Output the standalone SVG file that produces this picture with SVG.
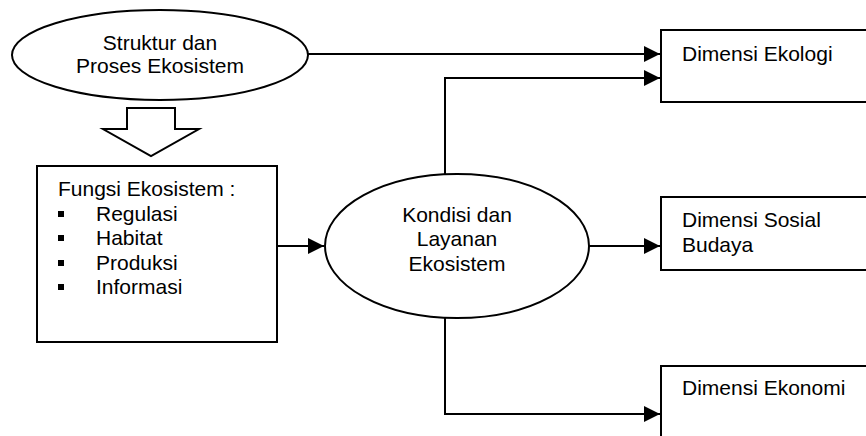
<svg xmlns="http://www.w3.org/2000/svg" width="866" height="436" viewBox="0 0 866 436">
  <style>
    .shape { fill: #ffffff; stroke: #000000; stroke-width: 2; }
    .line { fill: none; stroke: #000000; stroke-width: 2; }
    text { font-family: "Liberation Sans", Arial, sans-serif; font-size: 21px; fill: #000000; }
    .c { text-anchor: middle; }
  </style>
  <defs>
    <marker id="arrow" markerUnits="userSpaceOnUse" markerWidth="17" markerHeight="16" refX="16" refY="8" orient="auto">
      <path d="M0,0 L16,8 L0,16 Z" fill="#000000"/>
    </marker>
  </defs>

  <rect width="866" height="436" fill="#ffffff"/>

  <!-- connectors -->
  <g id="connectors">
    <path class="line" d="M307,54 H660" marker-end="url(#arrow)"/>
    <path class="line" d="M445,174 V78 H660" marker-end="url(#arrow)"/>
    <path class="line" d="M277,246 H324" marker-end="url(#arrow)"/>
    <path class="line" d="M589,246 H660" marker-end="url(#arrow)"/>
    <path class="line" d="M445,318 V414 H660" marker-end="url(#arrow)"/>
    <!-- hollow block arrow -->
    <polygon class="shape" points="127,108 175,108 175,129 199,129 151,156 103,129 127,129"/>
  </g>

  <g id="struktur">
    <ellipse class="shape" cx="160" cy="55" rx="148" ry="45"/>
    <text class="c" x="160" y="50">Struktur dan</text>
    <text class="c" x="160" y="73">Proses Ekosistem</text>
  </g>

  <g id="fungsi">
    <rect class="shape" x="37" y="166" width="240" height="176"/>
    <text x="58" y="196">Fungsi Ekosistem :</text>
    <rect x="58" y="211" width="6" height="6"/>
    <text x="96" y="221">Regulasi</text>
    <rect x="58" y="235" width="6" height="6"/>
    <text x="96" y="245">Habitat</text>
    <rect x="58" y="260" width="6" height="6"/>
    <text x="96" y="270">Produksi</text>
    <rect x="58" y="284" width="6" height="6"/>
    <text x="96" y="294">Informasi</text>
  </g>

  <g id="kondisi">
    <ellipse class="shape" cx="457" cy="246" rx="132" ry="72"/>
    <text class="c" x="457" y="222">Kondisi dan</text>
    <text class="c" x="457" y="246">Layanan</text>
    <text class="c" x="457" y="271">Ekosistem</text>
  </g>

  <g id="ekologi">
    <rect class="shape" x="661" y="30" width="210" height="72"/>
    <text x="682" y="61">Dimensi Ekologi</text>
  </g>

  <g id="sosial">
    <rect class="shape" x="661" y="197" width="210" height="73"/>
    <text x="682" y="227">Dimensi Sosial</text>
    <text x="682" y="252">Budaya</text>
  </g>

  <g id="ekonomi">
    <rect class="shape" x="661" y="366" width="210" height="80"/>
    <text x="682" y="395">Dimensi Ekonomi</text>
  </g>
</svg>
